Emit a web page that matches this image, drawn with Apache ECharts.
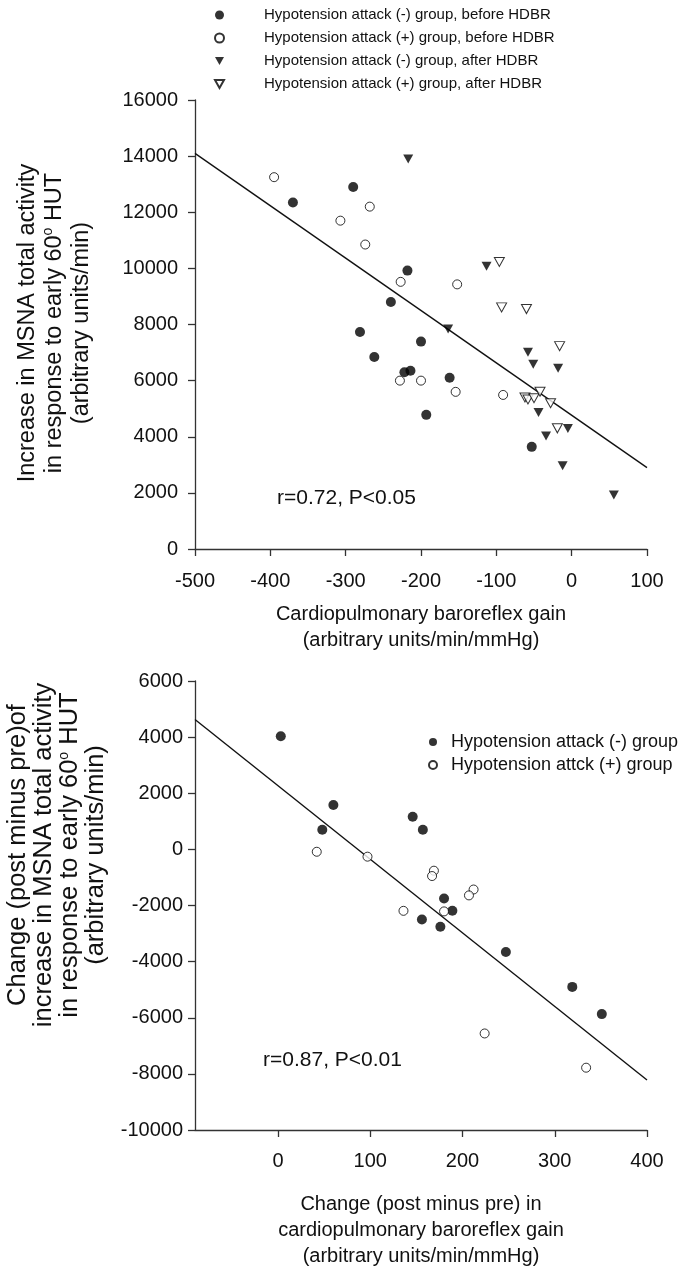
<!DOCTYPE html>
<html>
<head>
<meta charset="utf-8">
<script src="https://cdn.jsdelivr.net/npm/echarts@6.0.0/dist/echarts.min.js"></script>
<style>
  html, body { margin: 0; padding: 0; background: #fff; }
  #chart { width: 680px; height: 1272px; }
</style>
</head>
<body>
<div id="chart"></div>
<script>
// top panel: [gain, increase in MSNA]
var negBefore = [[-370, 12350], [-290, 12900], [-218, 9920], [-240, 8800], [-281, 7730], [-200, 7390],
  [-262, 6840], [-222, 6300], [-214, 6350], [-162, 6100], [-193, 4780], [-53, 3640]];
var posBefore = [[-395, 13250], [-268, 12200], [-307, 11700], [-274, 10850], [-227, 9520], [-228, 6000],
  [-200, 6000], [-152, 9430], [-154, 5600], [-91, 5490]];
var negAfter = [[-217, 13900], [-113, 10080], [-164, 7840], [-58, 7010], [-51, 6580], [-18, 6440],
  [-44, 4860], [-5, 4290], [-34, 4030], [-12, 2970], [56, 1920]];
var posAfter = [[-96, 10230], [-93, 8610], [-60, 8550], [-16, 7230], [-62, 5400], [-58, 5330],
  [-50, 5370], [-42, 5606], [-28, 5192], [-19, 4300]];
var topFit = [[-500, 14100], [100, 2900]];

// bottom panel: [change in gain, change in MSNA increase]
var negChange = [[3, 4030], [60, 1580], [48, 700], [146, 1160], [157, 700], [180, -1750], [189, -2190],
  [156, -2500], [176, -2760], [247, -3660], [319, -4900], [351, -5870]];
var posChange = [[42, -85], [97, -260], [169, -760], [167, -950], [212, -1430], [207, -1640],
  [136, -2190], [180, -2210], [224, -6560], [334, -7780]];
var bottomFit = [[-90, 4630], [400, -8220]];

var bottomXTicks = [0, 100, 200, 300, 400];

var topNames = [
  'Hypotension attack (-) group, before HDBR',
  'Hypotension attack (+) group, before HDBR',
  'Hypotension attack (-) group, after HDBR',
  'Hypotension attack (+) group, after HDBR'
];
var bottomNames = ['Hypotension attack (-) group', 'Hypotension attck (+) group'];

var FONT = '"Liberation Sans", Arial, Helvetica, sans-serif';
var INK = '#111';
// downward triangle, drawn as a path so the legend keeps its shape
var DOWN_TRI = 'path://M0,0L10,0L5,9Z';

function plain(v) {
  return String(v);
}

function makeAxis(grid, opt) {
  var axis = {
    gridIndex: grid,
    type: 'value',
    axisLine: { onZero: false, lineStyle: { color: '#333', width: 1.3 } },
    axisTick: { length: 7, lineStyle: { color: '#333', width: 1.3 } },
    axisLabel: { fontSize: 20, color: INK, fontFamily: FONT, formatter: plain },
    splitLine: { show: false },
    nameLocation: 'middle',
    nameTextStyle: { fontSize: 20, lineHeight: 26, color: INK, fontFamily: FONT }
  };
  return echarts.util.merge(axis, opt, true);
}

function scatter(name, data, axis, filled, tri, size) {
  return {
    name: name,
    type: 'scatter',
    xAxisIndex: axis,
    yAxisIndex: axis,
    data: data,
    symbol: tri ? DOWN_TRI : 'circle',
    symbolSize: tri ? [size, size * 0.9] : size,
    itemStyle: filled ? { color: '#000' } : { color: '#fff', borderColor: '#000', borderWidth: 1 },
    emphasis: { disabled: true }
  };
}

function fitLine(data, axis) {
  return {
    type: 'line',
    xAxisIndex: axis,
    yAxisIndex: axis,
    data: data,
    symbol: 'none',
    silent: true,
    lineStyle: { color: INK, width: 1.4 },
    z: 1
  };
}

var supStyle = { s: { fontSize: 14, lineHeight: 14, verticalAlign: 'top', fill: INK, fontFamily: FONT } };

var chart = echarts.init(document.getElementById('chart'));

chart.setOption({
  animation: false,
  backgroundColor: '#fff',
  textStyle: { fontFamily: FONT },
  grid: [
    { left: 195, top: 100, width: 452, height: 449 },
    { left: 195, top: 681, width: 452, height: 449 }
  ],
  xAxis: [
    makeAxis(0, {
      min: -500, max: 100, interval: 100,
      axisLabel: { margin: 22 },
      name: 'Cardiopulmonary baroreflex gain\n(arbitrary units/min/mmHg)',
      nameGap: 52
    }),
    makeAxis(1, {
      min: -90, max: 400,
      axisTick: { customValues: bottomXTicks },
      axisLabel: { margin: 21, customValues: bottomXTicks },
      name: 'Change (post minus pre) in\ncardiopulmonary baroreflex gain\n(arbitrary units/min/mmHg)',
      nameGap: 61
    })
  ],
  yAxis: [
    makeAxis(0, { min: 0, max: 16000, interval: 2000, axisLabel: { margin: 17 } }),
    makeAxis(1, { min: -10000, max: 6000, interval: 2000, axisLabel: { margin: 12 } })
  ],
  legend: [
    {
      data: topNames,
      orient: 'vertical',
      left: 214,
      top: 6,
      padding: 0,
      itemWidth: 9,
      itemHeight: 9,
      itemGap: 5,
      selectedMode: false,
      textStyle: { fontSize: 15, lineHeight: 18, color: INK, fontFamily: FONT, padding: [0, 0, 0, 35] }
    },
    {
      data: bottomNames,
      orient: 'vertical',
      left: 428,
      top: 732,
      padding: 0,
      itemWidth: 8,
      itemHeight: 8,
      itemGap: 3,
      selectedMode: false,
      textStyle: { fontSize: 18, lineHeight: 20, color: INK, fontFamily: FONT, padding: [0, 0, 0, 9] }
    }
  ],
  graphic: [
    {
      type: 'text', x: 55, y: 323, rotation: Math.PI / 2,
      style: {
        text: 'Increase in MSNA total activity\nin response to early 60{s|o} HUT\n(arbitrary units/min)',
        fontSize: 23.5, lineHeight: 27, fill: INK, fontFamily: FONT,
        align: 'center', verticalAlign: 'middle',
        rich: supStyle
      }
    },
    {
      type: 'text', x: 57, y: 855, rotation: Math.PI / 2,
      style: {
        text: 'Change (post minus pre)of\nincrease in MSNA total activity\nin response to early 60{s|o} HUT\n(arbitrary units/min)',
        fontSize: 25.5, lineHeight: 26, fill: INK, fontFamily: FONT,
        align: 'center', verticalAlign: 'middle',
        rich: supStyle
      }
    },
    {
      type: 'text', x: 277, y: 498,
      style: { text: 'r=0.72, P<0.05', fontSize: 21, fill: INK, fontFamily: FONT, verticalAlign: 'middle' }
    },
    {
      type: 'text', x: 263, y: 1060,
      style: { text: 'r=0.87, P<0.01', fontSize: 21, fill: INK, fontFamily: FONT, verticalAlign: 'middle' }
    }
  ],
  series: [
    fitLine(topFit, 0),
    scatter(topNames[0], negBefore, 0, true, false, 10),
    scatter(topNames[1], posBefore, 0, false, false, 9),
    scatter(topNames[2], negAfter, 0, true, true, 10),
    scatter(topNames[3], posAfter, 0, false, true, 10),
    fitLine(bottomFit, 1),
    scatter(bottomNames[0], negChange, 1, true, false, 10),
    scatter(bottomNames[1], posChange, 1, false, false, 9)
  ]
});
</script>
</body>
</html>
